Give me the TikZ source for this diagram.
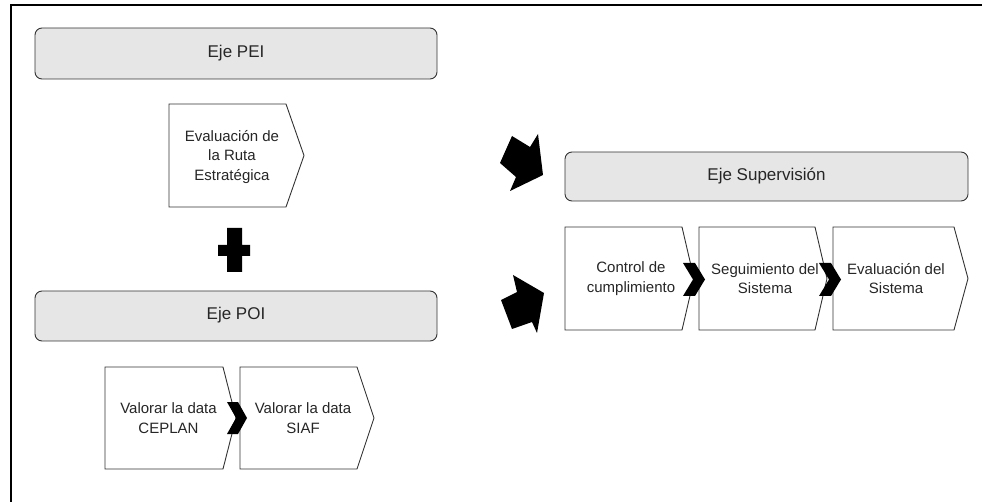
\documentclass[tikz,border=0pt]{standalone}
\usepackage{fontspec}
\setmainfont{Liberation Sans}
\definecolor{edge}{HTML}{333333}
\definecolor{ink}{HTML}{262626}
\definecolor{band}{HTML}{E6E6E6}

% process step: name-free outline with a pointed right side
% #1 left, #2 top, #3 shoulder, #4 tip, #5 bottom
\newcommand\stepoutline[5]{%
  \draw[stepbox] (#1,#2) -- (#3,#2) -- (#4,{(#2+#5)/2}) -- (#3,#5) -- (#1,#5) -- cycle;}
% small black chevron linking two steps
% #1 top-left x, #2 top y, #3 bottom y, #4 bar width, #5 slant
\newcommand\linkchevron[5]{%
  \fill[black] (#1,#2) -- ({#1+#4},#2) -- ({#1+#4+#5},{(#2+#3)/2}) -- ({#1+#4},#3)
    -- (#1,#3) -- ({#1+#5},{(#2+#3)/2}) -- cycle;}

\begin{document}
\begin{tikzpicture}[x=1pt,y=-1pt,
  header/.style={draw=edge, fill=band, rounded corners=7pt, line width=0.9pt,
    text=ink, font=\fontsize{17}{20}\selectfont, text height=0.92em, text depth=0.2em},
  stepbox/.style={draw=edge, fill=white, line width=0.9pt, line join=miter},
  lbl/.style={text=ink, font=\fontsize{15}{19.5}\selectfont, align=center, inner sep=0pt},
]
\useasboundingbox (0,0) rectangle (982,502);

% frame
\draw[line width=1.5pt] (982,5) -- (11,5) -- (11,502);

% axis headers
\node[header, minimum width=402pt, minimum height=51pt] (pei) at (236,53.5) {Eje PEI};
\node[header, minimum width=402pt, minimum height=50pt] (poi) at (236,316) {Eje POI};
\node[header, minimum width=403pt, minimum height=49pt] (sup) at (766.5,176.5) {Eje Supervisión};

% PEI step
\stepoutline{169}{104}{286}{304}{207}
\node[lbl] (ruta) at (232,157) {Evaluación de\\la Ruta\\Estratégica};

% plus sign
\fill[black] (227,228) -- (242,228) -- (242,245) -- (250,245) -- (250,256) -- (242,256)
  -- (242,272) -- (227,272) -- (227,256) -- (218,256) -- (218,245) -- (227,245) -- cycle;

% POI steps
\stepoutline{105}{367}{223}{236}{469}
\stepoutline{240}{367}{357}{374}{469}
\node[lbl] (ceplan) at (168.5,418) {Valorar la data\\CEPLAN};
\node[lbl] (siaf) at (303,418) {Valorar la data\\SIAF};
\linkchevron{227}{402}{434}{11}{9}

% supervision steps
\stepoutline{565}{227}{682}{694}{330}
\stepoutline{699}{227}{815}{827}{330}
\stepoutline{833}{227}{954}{968}{330}
\node[lbl] (ctrl) at (631,278.5) {Control de\\cumplimiento};
\node[lbl] (seg) at (765,278.5) {Seguimiento del\\Sistema};
\node[lbl] (evs) at (896,278.5) {Evaluación del\\Sistema};
\linkchevron{683}{263}{296}{12}{10}
\linkchevron{819}{263}{296}{12}{10}

% block arrows towards the supervision axis
\fill[black] (512,136) -- (530,147) -- (538,134) -- (543,175) -- (510,191) -- (516,177)
  -- (500,163) -- cycle;
\fill[black] (513,275) -- (544,293) -- (537,333) -- (532,322) -- (512,329) -- (501,300)
  -- (517,292) -- cycle;
\end{tikzpicture}
\end{document}
